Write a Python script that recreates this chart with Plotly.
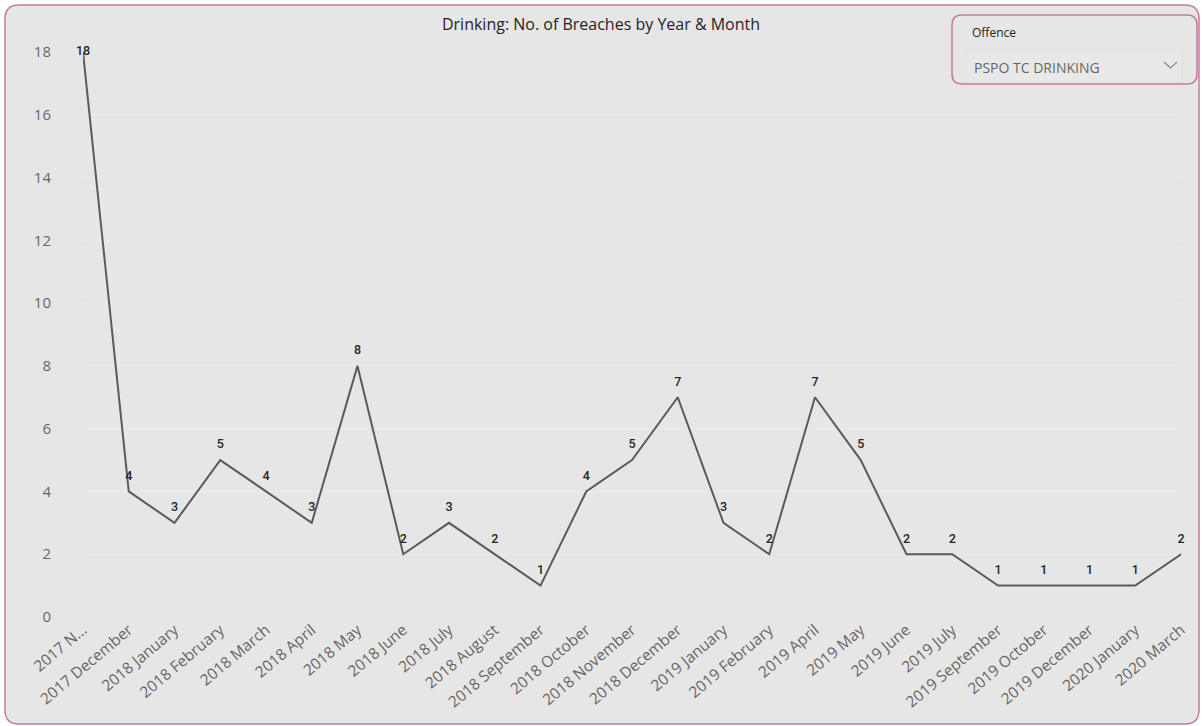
import plotly.graph_objects as go

months = ["2017 November", "2017 December", "2018 January", "2018 February", "2018 March",
          "2018 April", "2018 May", "2018 June", "2018 July", "2018 August",
          "2018 September", "2018 October", "2018 November", "2018 December", "2019 January",
          "2019 February", "2019 April", "2019 May", "2019 June", "2019 July",
          "2019 September", "2019 October", "2019 December", "2020 January", "2020 March"]
breaches = [18, 4, 3, 5, 4, 3, 8, 2, 3, 2, 1, 4, 5, 7, 3, 2, 7, 5, 2, 2, 1, 1, 1, 1, 2]
tick_labels = ["2017 N..."] + months[1:]
y_ticks = [0, 2, 4, 6, 8, 10, 12, 14, 16, 18]

W, H = 1202, 726
L, R, T, B = 83, 21, 52, 109
PW, PH = W - L - R, H - T - B
pink = "#c8799f"
bg = "#e6e6e6"


def px(x, y):
    # pixel position -> coords relative to the plot area (paper refs)
    return (x - L) / PW, 1 - (y - T) / PH


def rounded_rect(x0, y0, x1, y1, r):
    def p(x, y):
        a, b = px(x, y)
        return f"{a:.5f},{b:.5f}"
    return (f"M {p(x0 + r, y0)} L {p(x1 - r, y0)} Q {p(x1, y0)} {p(x1, y0 + r)} "
            f"L {p(x1, y1 - r)} Q {p(x1, y1)} {p(x1 - r, y1)} "
            f"L {p(x0 + r, y1)} Q {p(x0, y1)} {p(x0, y1 - r)} "
            f"L {p(x0, y0 + r)} Q {p(x0, y0)} {p(x0 + r, y0)} Z")


# the top value has no room above, so its label sits on the point
positions = ["middle center"] + ["top center"] * (len(breaches) - 1)

fig = go.Figure(go.Scatter(
    x=months, y=breaches, mode="lines+markers+text",
    line=dict(color="#5a5a5a", width=2),
    marker=dict(size=12, opacity=0),
    text=[str(v) for v in breaches], textposition=positions,
    textfont=dict(family="Roboto", size=12.5, color="#252423", weight=500),
    cliponaxis=False, hoverinfo="skip",
))

c1 = px(1164, 62)
c2 = px(1170.5, 68)
c3 = px(1177, 62)
off = px(970, 33)
sel = px(972, 67)

fig.update_layout(
    width=W, height=H,
    paper_bgcolor="white", plot_bgcolor="rgba(0,0,0,0)",
    margin=dict(l=L, r=R, t=T, b=B),
    showlegend=False,
    title=dict(text="Drinking: No. of Breaches by Year & Month", x=0.5, xanchor="center",
               y=1 - 24 / H, yanchor="middle",
               font=dict(family="Open Sans", size=16, color="#252423")),
    xaxis=dict(type="category", range=[0, len(months) - 1], tickmode="array",
               tickvals=months, ticktext=tick_labels, tickangle=-40,
               tickfont=dict(family="Open Sans", size=15.5, color="#666666"),
               showgrid=False, zeroline=False, showline=False, ticks=""),
    yaxis=dict(range=[0, 18], tickvals=y_ticks,
               tickfont=dict(family="Open Sans", size=15, color="#666666"),
               showgrid=True, gridcolor="#ebebeb", gridwidth=1, zeroline=False,
               showline=False, ticks="outside", ticklen=28, tickcolor="rgba(0,0,0,0)"),
    shapes=[
        dict(type="path", xref="paper", yref="paper", layer="below",
             path=rounded_rect(5, 5, 1199, 724, 14),
             fillcolor=bg, line=dict(color=pink, width=1.5)),
        dict(type="rect", xref="paper", yref="paper", layer="below",
             x0=px(966, 0)[0], x1=px(1182, 0)[0], y0=px(0, 82)[1], y1=px(0, 51)[1],
             fillcolor="#e8e8e8", line=dict(color="#e0e0e0", width=1)),
        dict(type="path", xref="paper", yref="paper", layer="above",
             path=rounded_rect(952, 15, 1197, 84, 10),
             fillcolor="rgba(0,0,0,0)", line=dict(color=pink, width=1.5)),
        dict(type="path", xref="paper", yref="paper", layer="above",
             path=f"M {c1[0]:.5f},{c1[1]:.5f} L {c2[0]:.5f},{c2[1]:.5f} L {c3[0]:.5f},{c3[1]:.5f}",
             line=dict(color="#888888", width=1.2)),
    ],
    annotations=[
        dict(text="Offence", xref="paper", yref="paper", x=off[0], y=off[1],
             xanchor="left", yanchor="middle", showarrow=False,
             font=dict(family="Open Sans", size=12, color="#252423")),
        dict(text="PSPO TC DRINKING", xref="paper", yref="paper", x=sel[0], y=sel[1],
             xanchor="left", yanchor="middle", showarrow=False,
             font=dict(family="Open Sans", size=14, color="#666666")),
    ],
)

fig.write_html("out.html", config={"displayModeBar": False},
               post_script="document.body.style.margin='0';")
